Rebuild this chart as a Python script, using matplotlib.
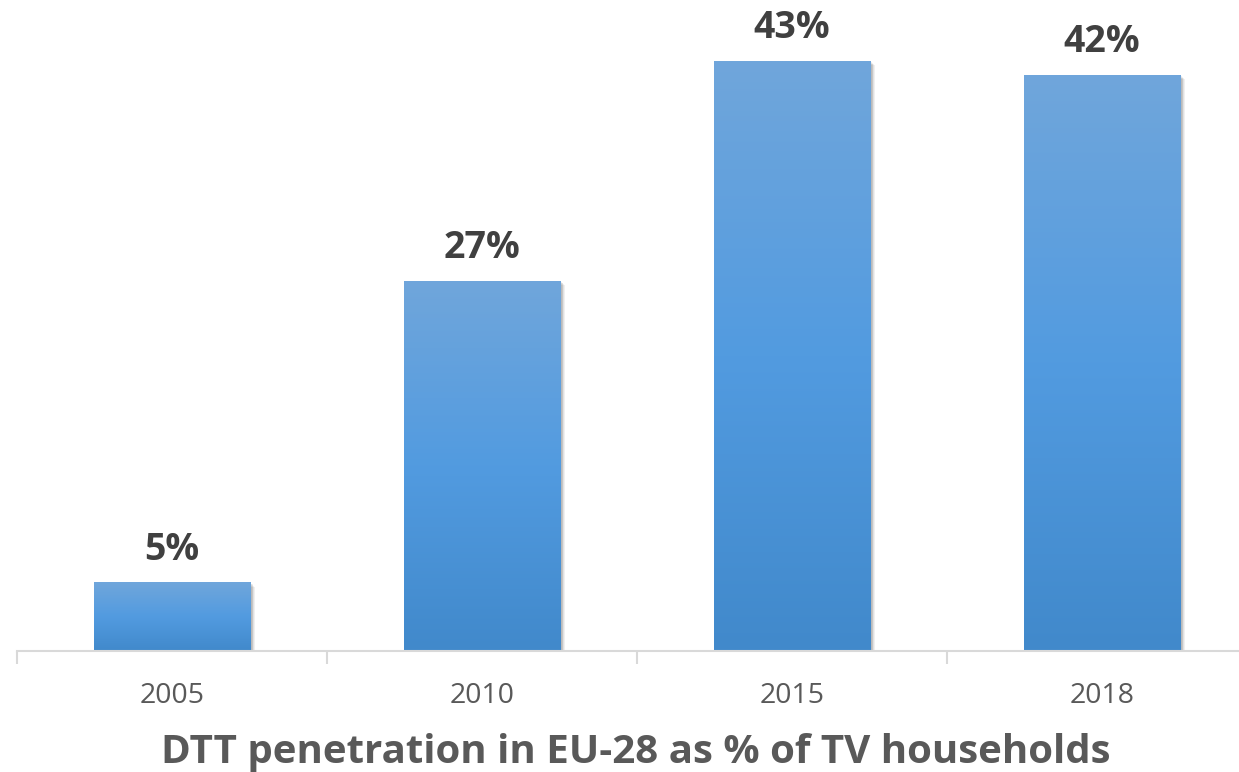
import matplotlib.pyplot as plt
import matplotlib.patches as mpatches
import numpy as np
from matplotlib.colors import LinearSegmentedColormap

plt.rcParams['font.family'] = ['Open Sans', 'DejaVu Sans']

years = ['2005', '2010', '2015', '2018']
penetration = [5, 27, 43, 42]
title = 'DTT penetration in EU-28 as % of TV households'

W, H = 1239, 772
fig = plt.figure(figsize=(W / 100, H / 100), dpi=100)

# axes placed so the category band runs off the right edge like the original
px_per_unit = 13.72
ymax = 47
base_px = 651
ax = fig.add_axes([17 / W, (H - base_px) / H, 1240 / W, ymax * px_per_unit / H])
ax.set_xlim(-0.5, 3.5)
ax.set_ylim(0, ymax)

x = np.arange(len(years))
bars = ax.bar(x, penetration, width=0.505, color='none', zorder=3)

# blue vertical gradient, lighter at the top
cmap = LinearSegmentedColormap.from_list(
    'bar', ['#4189cb', '#529be0', '#70a6db'])
grad = np.linspace(0, 1, 256).reshape(-1, 1)

for b in bars:
    x0, y0 = b.get_x(), b.get_y()
    w, h = b.get_width(), b.get_height()
    # soft shadow right/bottom
    for i in range(6):
        off = 0.0025 * (i + 1)
        ax.add_patch(mpatches.Rectangle((x0 + off, y0 - off * 10), w, h - off * 10,
                                        facecolor='black', alpha=0.06, lw=0, zorder=2))
    im = ax.imshow(grad, cmap=cmap, aspect='auto', origin='lower',
                   extent=(x0, x0 + w, y0, y0 + h), zorder=3)
    im.set_clip_path(b)
    ax.text(b.get_x() + w / 2, h + 1.0, f'{int(h)}%', ha='center', va='bottom',
            fontsize=27, fontweight='bold', color='#404040', zorder=4)

ax.set_xlim(-0.5, 3.5)
ax.set_ylim(0, ymax)

for s in ['top', 'right', 'left']:
    ax.spines[s].set_visible(False)
ax.spines['bottom'].set_color('#d9d9d9')
ax.spines['bottom'].set_linewidth(1.5)
ax.spines['bottom'].set_zorder(4)
ax.set_yticks([])

ax.set_xticks(x)
ax.set_xticklabels(years, fontsize=20.5, color='#595959')
ax.tick_params(axis='x', length=0, pad=22)
ax.set_xticks(np.arange(-0.5, 4.0, 1), minor=True)
ax.tick_params(axis='x', which='minor', length=9, width=1.5, color='#d9d9d9')

fig.text(636 / W, (H - 752) / H, title, ha='center', va='center',
         fontsize=29, fontweight='bold', color='#595959')

fig.savefig('out.png', dpi=100)
